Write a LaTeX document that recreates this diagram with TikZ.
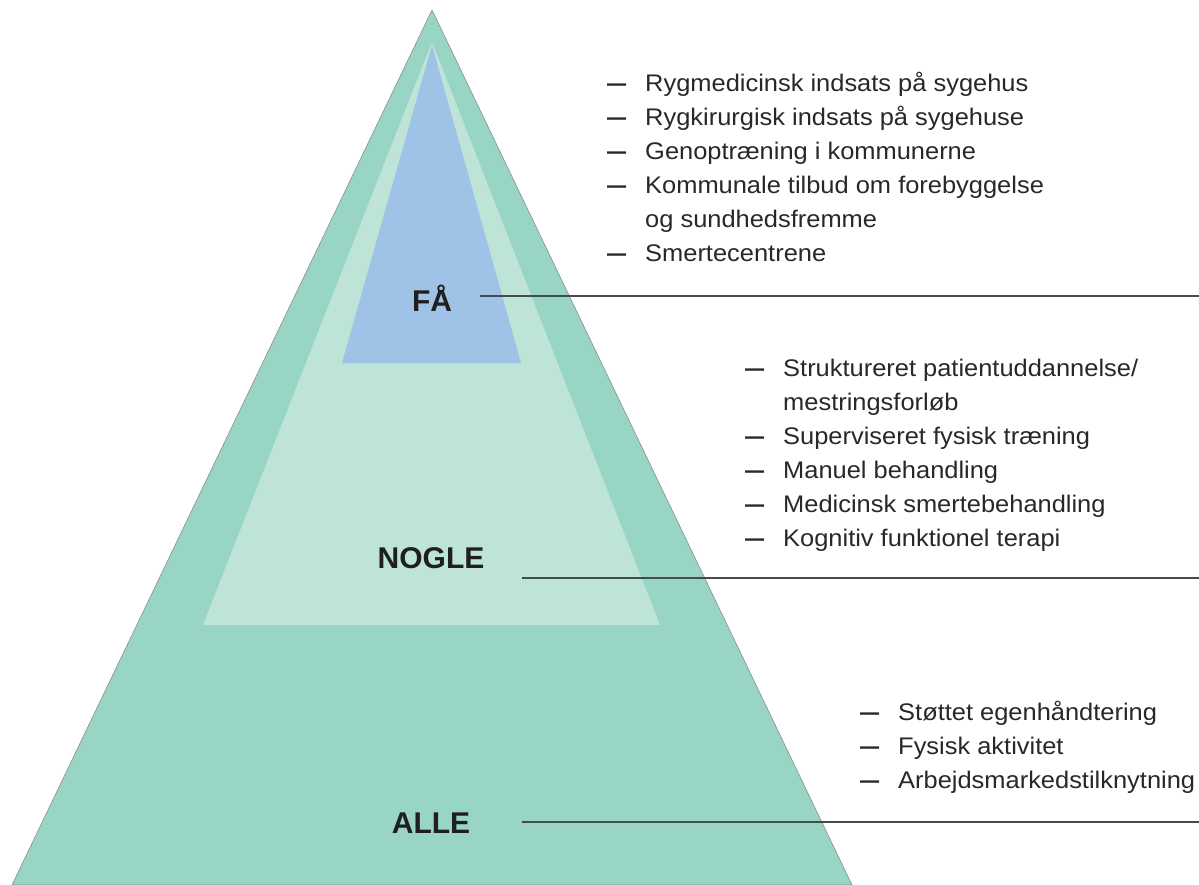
\documentclass[tikz,border=0pt]{standalone}
\usepackage{fontspec}
\usepackage{graphicx}
\setmainfont{Liberation Sans}
\newfontfamily\listfont[FakeStretch=1.06]{Liberation Sans}
\definecolor{darkgreen}{RGB}{152,213,197}
\definecolor{lightgreen}{RGB}{190,228,216}
\definecolor{skyblue}{RGB}{158,195,230}
\definecolor{textgrey}{RGB}{40,40,40}
\definecolor{linegrey}{RGB}{70,75,75}
\newcommand{\itemdash}{\makebox[38pt][l]{\scalebox{0.75}[1]{\bfseries —}}}
\tikzset{
  level/.style={font=\fontsize{30}{36}\selectfont\bfseries, text=black!88, inner sep=0pt},
  listblock/.style={font=\listfont\fontsize{24}{34}\selectfont, text=textgrey, inner sep=0pt, anchor=base west},
  leader/.style={draw=linegrey, line width=1.4pt}
}
\begin{document}
\begin{tikzpicture}[x=1pt,y=-1pt]
\useasboundingbox (0,0) rectangle (1199,885);
\fill[white] (0,0) rectangle (1199,885);
% pyramid layers
\filldraw[fill=darkgreen, draw=black!45, line width=0.6pt] (432,10) -- (12,885) -- (852,885) -- cycle;
\fill[lightgreen] (432,42) -- (203,625) -- (660,625) -- cycle;
\fill[skyblue] (432,45) -- (342,363) -- (521,363) -- cycle;
% level labels
\node[level] (fa) at (432,298) {FÅ};
\node[level] (nogle) at (431,558) {NOGLE};
\node[level] (alle) at (431,823) {ALLE};
% leader lines
\coordinate (fa-s) at (480,296);
\coordinate (fa-e) at (1199,296);
\coordinate (nogle-s) at (522,578);
\coordinate (nogle-e) at (1199,578);
\coordinate (alle-s) at (522,822);
\coordinate (alle-e) at (1199,822);
\draw[leader] (fa-s) -- (fa-e);
\draw[leader] (nogle-s) -- (nogle-e);
\draw[leader] (alle-s) -- (alle-e);
% lists
\node[listblock] (list-fa) at (607,92) {\begin{tabular}[t]{@{}l@{}l@{}}
\itemdash & Rygmedicinsk indsats på sygehus\\
\itemdash & Rygkirurgisk indsats på sygehuse\\
\itemdash & Genoptræning i kommunerne\\
\itemdash & Kommunale tilbud om forebyggelse\\
 & og sundhedsfremme\\
\itemdash & Smertecentrene
\end{tabular}};
\node[listblock] (list-nogle) at (745,376) {\begin{tabular}[t]{@{}l@{}l@{}}
\itemdash & Struktureret patientuddannelse/\\
 & mestringsforløb\\
\itemdash & Superviseret fysisk træning\\
\itemdash & Manuel behandling\\
\itemdash & Medicinsk smertebehandling\\
\itemdash & Kognitiv funktionel terapi
\end{tabular}};
\node[listblock] (list-alle) at (860,720) {\begin{tabular}[t]{@{}l@{}l@{}}
\itemdash & Støttet egenhåndtering\\
\itemdash & Fysisk aktivitet\\
\itemdash & Arbejdsmarkedstilknytning
\end{tabular}};
\end{tikzpicture}
\end{document}
